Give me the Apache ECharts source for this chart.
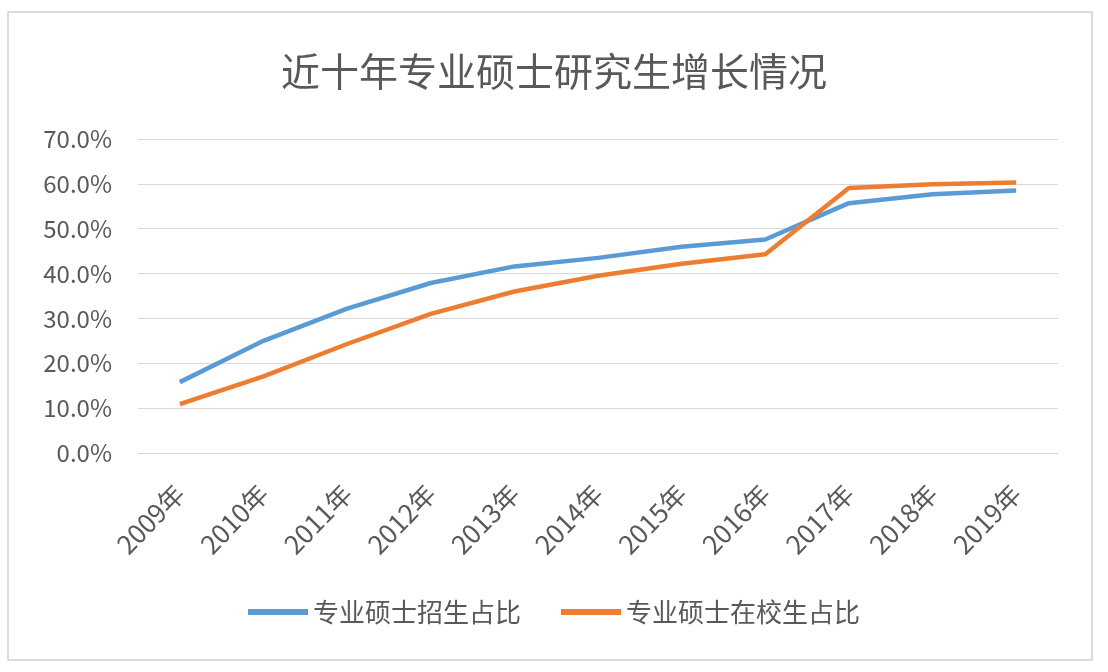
<!DOCTYPE html>
<html><head><meta charset="utf-8">
<script src="https://cdn.jsdelivr.net/npm/echarts@6/dist/echarts.min.js"></script>
<style>html,body{margin:0;padding:0;background:#fff}#c{width:1108px;height:672px}</style>
</head><body><div id="c"></div>
<script>
const categories = ['2009年','2010年','2011年','2012年','2013年','2014年','2015年','2016年','2017年','2018年','2019年'];
const enrollShare = [15.8, 25.0, 32.2, 37.9, 41.6, 43.5, 46.0, 47.6, 55.7, 57.7, 58.5];
const studentShare = [10.9, 17.1, 24.3, 31.0, 36.0, 39.5, 42.2, 44.3, 59.1, 59.9, 60.3];
const seriesNames = ['专业硕士招生占比','专业硕士在校生占比'];
const font = '"Noto Sans CJK SC", "Noto Sans", sans-serif';
const chart = echarts.init(document.getElementById('c'));
chart.setOption({
  backgroundColor: '#fff',
  animation: false,
  graphic: [{type:'rect', shape:{x:8, y:12, width:1084, height:648}, style:{fill:'none', stroke:'#d0d0d0', lineWidth:1.5}, silent:true}],
  title: {text:'近十年专业硕士研究生增长情况', left:'center', top:47, textStyle:{fontFamily:font, fontSize:39, fontWeight:'normal', color:'#595959'}},
  legend: {bottom:42, left:'center', itemWidth:60, itemHeight:6, itemGap:40, icon:'rect',
    textStyle:{fontFamily:font, fontSize:26, color:'#595959'}, data:seriesNames},
  grid: {left:138, right:50, top:139, bottom:219},
  xAxis: {type:'category', data:categories, boundaryGap:true,
    axisLine:{show:false}, axisTick:{show:false},
    axisLabel:{rotate:46, fontFamily:font, fontSize:26, color:'#595959', margin:36}},
  yAxis: {type:'value', min:0, max:70, interval:10,
    axisLabel:{formatter:v=>v.toFixed(1)+'%', fontFamily:font, fontSize:24, color:'#595959', margin:26},
    splitLine:{lineStyle:{color:'#d9d9d9', width:1.2}}},
  series: [
    {name:seriesNames[0], type:'line', data:enrollShare, symbol:'none', lineStyle:{width:4.5, color:'#5B9BD5'}, itemStyle:{color:'#5B9BD5'}},
    {name:seriesNames[1], type:'line', data:studentShare, symbol:'none', lineStyle:{width:4.5, color:'#ED7D31'}, itemStyle:{color:'#ED7D31'}}
  ]
});
</script></body></html>
